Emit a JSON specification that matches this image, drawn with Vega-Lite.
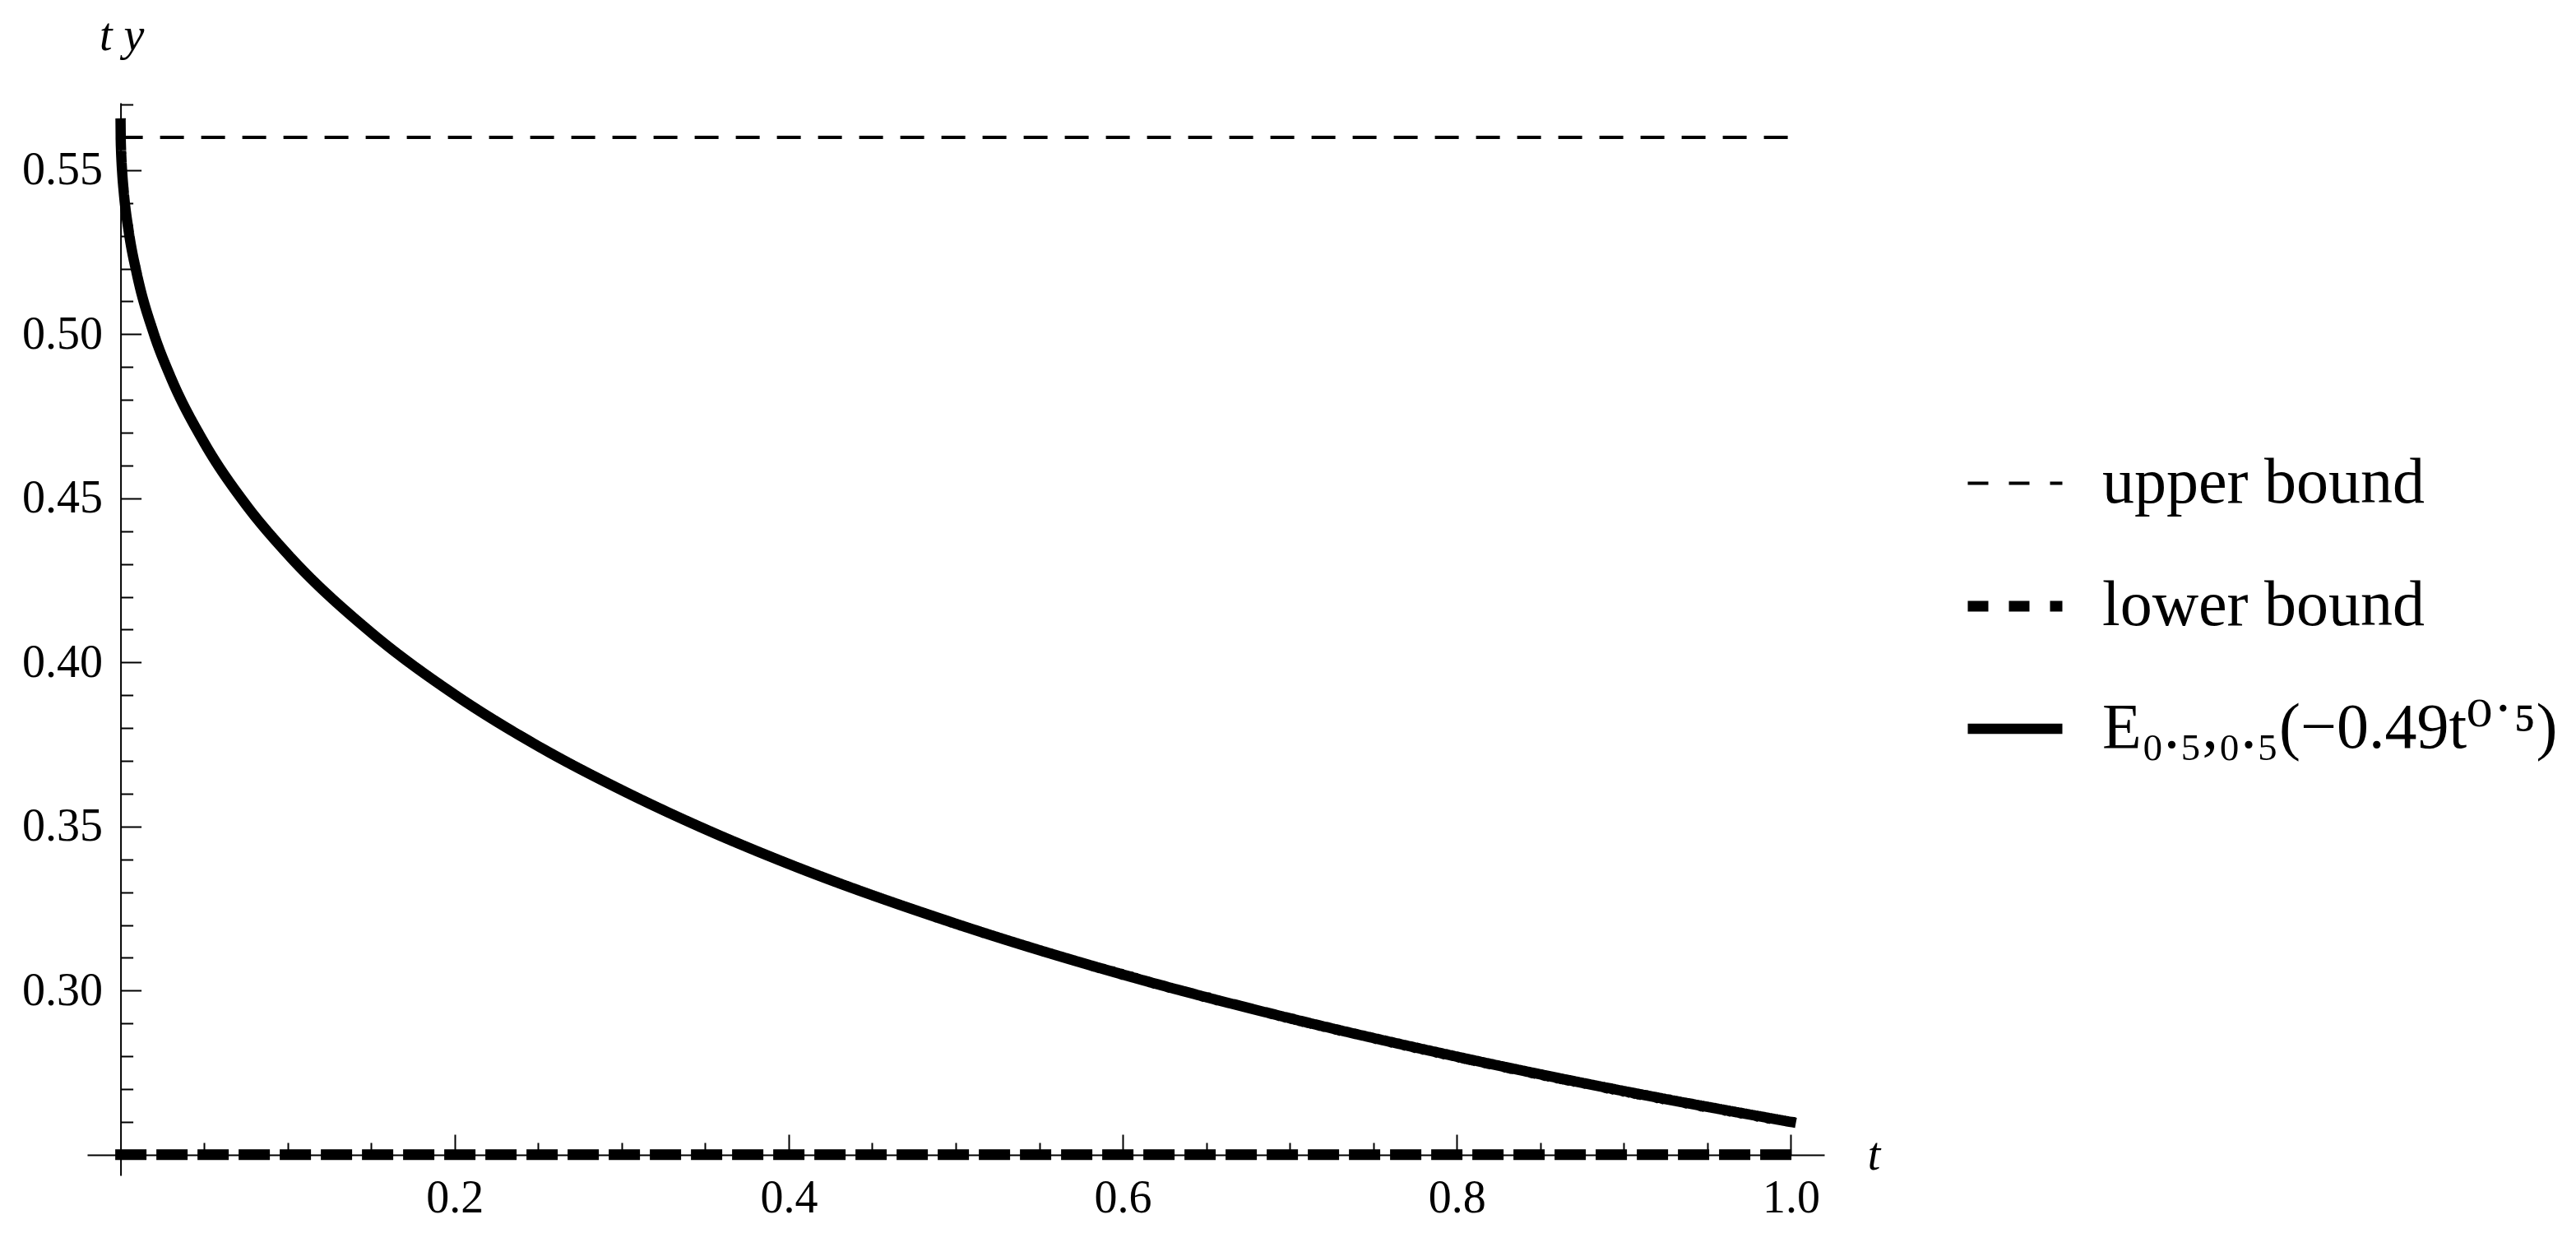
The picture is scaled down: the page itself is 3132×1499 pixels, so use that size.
{
  "$schema": "https://vega.github.io/schema/vega-lite/v6.json",
  "description": "E_{0.5,0.5}(-0.49 t^0.5) with its upper and lower bounds",
  "width": 2112,
  "height": 1304,
  "autosize": {"type": "none"},
  "padding": {"left": 106, "top": 125, "right": 914, "bottom": 70},
  "background": "white",
  "config": {
    "view": {"stroke": null},
    "font": "Liberation Serif",
    "axis": {
      "grid": false,
      "domainColor": "black",
      "domainWidth": 2,
      "tickColor": "black",
      "tickWidth": 2,
      "labelColor": "black",
      "labelFont": "Liberation Serif",
      "labelFontSize": 56,
      "labelOverlap": false,
      "labelFlush": false,
      "labelBound": false,
      "titleFont": "Liberation Serif",
      "titleFontSize": 56,
      "titleFontStyle": "italic",
      "titleFontWeight": "normal",
      "titleColor": "black"
    }
  },
  "data": {
    "values": [
      {"t": 0, "value": 0.56, "series": "upper bound"},
      {"t": 1, "value": 0.56, "series": "upper bound"},
      {"t": 0, "value": 0.25, "series": "lower bound"},
      {"t": 1, "value": 0.25, "series": "lower bound"},
      {"t": 0, "value": 0.5642, "series": "E"},
      {"t": 0.0001, "value": 0.5593, "series": "E"},
      {"t": 0.0002, "value": 0.5573, "series": "E"},
      {"t": 0.0005, "value": 0.5534, "series": "E"},
      {"t": 0.001, "value": 0.549, "series": "E"},
      {"t": 0.002, "value": 0.5428, "series": "E"},
      {"t": 0.005, "value": 0.5309, "series": "E"},
      {"t": 0.01, "value": 0.5178, "series": "E"},
      {"t": 0.02, "value": 0.5, "series": "E"},
      {"t": 0.03, "value": 0.4869, "series": "E"},
      {"t": 0.05, "value": 0.467, "series": "E"},
      {"t": 0.075, "value": 0.4481, "series": "E"},
      {"t": 0.1, "value": 0.433, "series": "E"},
      {"t": 0.15, "value": 0.4091, "series": "E"},
      {"t": 0.2, "value": 0.3902, "series": "E"},
      {"t": 0.25, "value": 0.3745, "series": "E"},
      {"t": 0.3, "value": 0.3611, "series": "E"},
      {"t": 0.35, "value": 0.3492, "series": "E"},
      {"t": 0.4, "value": 0.3386, "series": "E"},
      {"t": 0.5, "value": 0.3204, "series": "E"},
      {"t": 0.6, "value": 0.3049, "series": "E"},
      {"t": 0.7, "value": 0.2916, "series": "E"},
      {"t": 0.8, "value": 0.2799, "series": "E"},
      {"t": 0.9, "value": 0.2694, "series": "E"},
      {"t": 1, "value": 0.26, "series": "E"}
    ]
  },
  "mark": {"type": "line", "color": "black", "strokeCap": "square", "interpolate": "monotone"},
  "encoding": {
    "x": {
      "field": "t",
      "type": "quantitative",
      "scale": {"domain": [-0.02, 1.02], "nice": false, "zero": false},
      "axis": {
        "orient": "bottom",
        "offset": -25,
        "values": [0.05, 0.1, 0.15, 0.2, 0.25, 0.3, 0.35, 0.4, 0.45, 0.5, 0.55, 0.6, 0.65, 0.7, 0.75, 0.8, 0.85, 0.9, 0.95, 1.0],
        "tickSize": {"condition": {"test": "abs(datum.value * 5 - round(datum.value * 5)) < 0.000001", "value": -25}, "value": -15},
        "labelExpr": "abs(datum.value * 5 - round(datum.value * 5)) < 0.000001 ? format(datum.value, '.1f') : ''",
        "labelPadding": 50,
        "title": "t",
        "titleX": 2172,
        "titleY": 17,
        "titleAlign": "center",
        "titleBaseline": "alphabetic",
        "titleAnchor": null
      }
    },
    "y": {
      "field": "value",
      "type": "quantitative",
      "scale": {"domain": [0.2437, 0.5705], "nice": false, "zero": false},
      "axis": {
        "orient": "left",
        "offset": -40.6,
        "values": [0.26, 0.27, 0.28, 0.29, 0.3, 0.31, 0.32, 0.33, 0.34, 0.35, 0.36, 0.37, 0.38, 0.39, 0.4, 0.41, 0.42, 0.43, 0.44, 0.45, 0.46, 0.47, 0.48, 0.49, 0.5, 0.51, 0.52, 0.53, 0.54, 0.55, 0.56, 0.57],
        "tickSize": {"condition": {"test": "abs(datum.value * 20 - round(datum.value * 20)) < 0.000001", "value": -25}, "value": -15},
        "labelExpr": "abs(datum.value * 20 - round(datum.value * 20)) < 0.000001 ? format(datum.value, '.2f') : ''",
        "labelPadding": 47,
        "title": "t y",
        "titleAngle": 0,
        "titleX": 1,
        "titleY": -65,
        "titleAlign": "center",
        "titleBaseline": "alphabetic",
        "titleAnchor": null
      }
    },
    "strokeDash": {
      "field": "series",
      "type": "nominal",
      "scale": {"domain": ["upper bound", "lower bound", "E"], "range": [[25, 25], [25, 25], [1, 0]]},
      "legend": {
        "orient": "none",
        "legendX": 2280,
        "legendY": 403,
        "title": null,
        "padding": 0,
        "symbolType": "stroke",
        "symbolSize": 13225,
        "symbolStrokeColor": "black",
        "labelFont": "Liberation Serif, DejaVu Serif",
        "labelFontSize": 78,
        "labelColor": "black",
        "labelLimit": 2000,
        "labelOffset": 42,
        "rowPadding": 46,
        "labelExpr": "datum.label == 'E' ? 'E₀.₅,₀.₅(−0.49t⁰˙⁵)' : datum.label"
      }
    },
    "strokeWidth": {
      "field": "series",
      "type": "nominal",
      "scale": {"type": "ordinal", "domain": ["upper bound", "lower bound", "E"], "range": [4, 13, 12.5]},
      "legend": {
        "orient": "none",
        "legendX": 2280,
        "legendY": 403,
        "title": null,
        "padding": 0,
        "symbolType": "stroke",
        "symbolSize": 13225,
        "symbolStrokeColor": "black",
        "labelFont": "Liberation Serif, DejaVu Serif",
        "labelFontSize": 78,
        "labelColor": "black",
        "labelLimit": 2000,
        "labelOffset": 42,
        "rowPadding": 46,
        "labelExpr": "datum.label == 'E' ? 'E₀.₅,₀.₅(−0.49t⁰˙⁵)' : datum.label"
      }
    }
  }
}
